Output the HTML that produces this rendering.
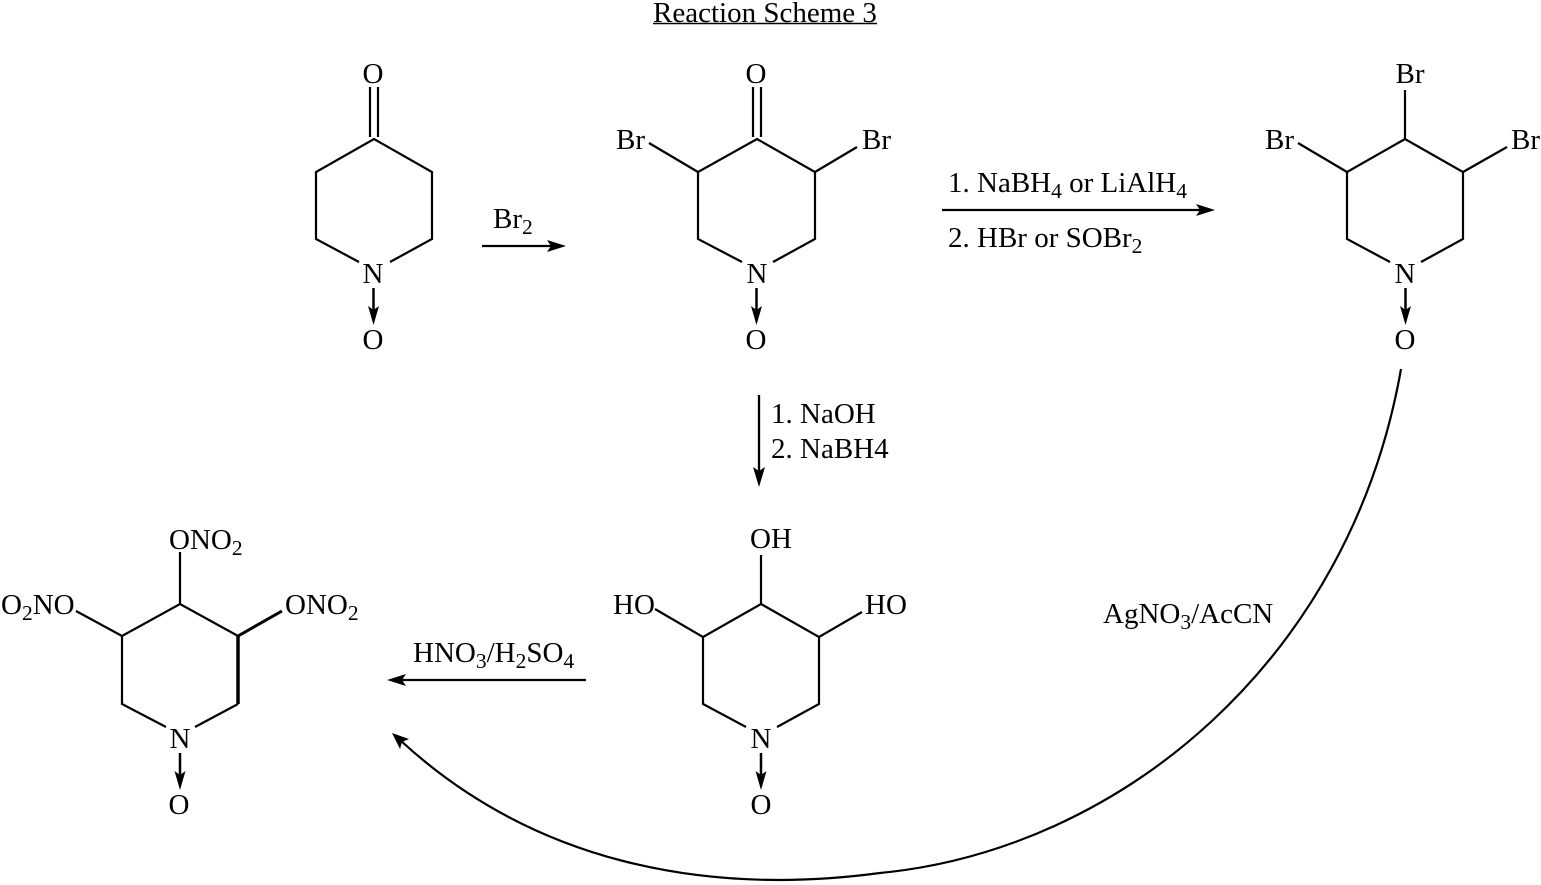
<!DOCTYPE html>
<html><head><meta charset="utf-8"><style>
html,body{margin:0;padding:0;background:#fff}
svg{display:block}
text{font-family:"Liberation Serif",serif;font-size:29px;fill:#000}
.s{font-size:21.5px}
</style></head><body>
<svg width="1541" height="885" viewBox="0 0 1541 885" xmlns="http://www.w3.org/2000/svg">
<defs>
<polygon id="ad" points="0,20 -5.5,1 0,5 5.5,1" fill="#000"/>
</defs>
<g fill="none" stroke="#000" stroke-width="2.2">
<!-- mol 1 -->
<path d="M370,87V137M378,87V137"/>
<path d="M359,262L316,239V172L374,139L432,172V239L390,262"/>
<path d="M373.5,288V310" stroke-width="2.5"/>
<!-- mol 2 -->
<path d="M753,87V137M761,87V137"/>
<path d="M742,262L698,239V172L757,139L815,172V239L773,262"/>
<path d="M698,172L649,143M815,172L857,147"/>
<path d="M756.5,288V310" stroke-width="2.5"/>
<!-- mol 3 -->
<path d="M1390,262L1347,239V172L1405,139L1463,172V239L1421,262"/>
<path d="M1405,139V90M1347,172L1298,143M1463,172L1507,147"/>
<path d="M1405.5,288V310" stroke-width="2.5"/>
<!-- mol 4 -->
<path d="M746,727L703,704V637L761,604L819,637V704L777,727"/>
<path d="M761,604V555M703,637L655,609M819,637L862,612"/>
<path d="M761,753V775" stroke-width="2.5"/>
<!-- mol 5 -->
<path d="M166,727L122,704V636L180,604L238,636"/>
<path d="M238,704L195,727"/>
<path d="M180,604V552M122,636L76,611"/>
<path d="M238,636V704" stroke-width="3.5"/>
<path d="M238,636L282,611" stroke-width="3"/>
<path d="M180,753V775" stroke-width="2.5"/>
<!-- reaction arrows -->
<path d="M482,246H552M942,210H1200M759,395V472M586,680H402" stroke-width="2.3"/>
<!-- curve -->
<path d="M1401,369C1350,660 1120,850 880,873C700,897 530,860 400,740"/>
</g>
<use href="#ad" x="373.5" y="305"/>
<use href="#ad" x="756.5" y="305"/>
<use href="#ad" x="1405.5" y="305"/>
<use href="#ad" x="761" y="770"/>
<use href="#ad" x="180" y="770"/>
<polygon points="566,246 547,240 551,246 547,252" fill="#000"/>
<polygon points="1215,210 1196,204 1200,210 1196,216" fill="#000"/>
<polygon points="759,487 753,467 759,471 765,467" fill="#000"/>
<polygon points="387,680 406,674 402,680 406,686" fill="#000"/>
<polygon points="392,733 409,739 402,742 400,749" fill="#000"/>

<text x="653" y="22">Reaction Scheme 3</text>
<path d="M653,23.5H877" stroke="#000" stroke-width="1.5" fill="none"/>

<g text-anchor="middle">
<text x="373" y="83">O</text><text x="373" y="283">N</text><text x="373" y="349">O</text>
<text x="756" y="83">O</text><text x="757" y="283">N</text><text x="756" y="349">O</text>
<text x="1405" y="283">N</text><text x="1405" y="349">O</text>
<text x="1410" y="83">Br</text>
<text x="761" y="748">N</text><text x="761" y="814">O</text>
<text x="180" y="748">N</text><text x="179" y="814">O</text>
<text x="771" y="548">OH</text>
</g>
<text x="616" y="149">Br</text>
<text x="862" y="149">Br</text>
<text x="1265" y="149">Br</text>
<text x="1511" y="149">Br</text>
<text x="613" y="614">HO</text>
<text x="865" y="614">HO</text>
<text x="169" y="549">ONO<tspan class="s" dy="6">2</tspan></text>
<text x="285" y="614">ONO<tspan class="s" dy="6">2</tspan></text>
<text x="1" y="614">O<tspan class="s" dy="6">2</tspan><tspan dy="-6">NO</tspan></text>
<text x="493" y="228">Br<tspan class="s" dy="6">2</tspan></text>
<text x="948" y="192">1. NaBH<tspan class="s" dy="6">4</tspan><tspan dy="-6"> or LiAlH</tspan><tspan class="s" dy="6">4</tspan></text>
<text x="948" y="247">2. HBr or SOBr<tspan class="s" dy="6">2</tspan></text>
<text x="771" y="423">1. NaOH</text>
<text x="771" y="458">2. NaBH4</text>
<text x="413" y="662">HNO<tspan class="s" dy="6">3</tspan><tspan dy="-6">/H</tspan><tspan class="s" dy="6">2</tspan><tspan dy="-6">SO</tspan><tspan class="s" dy="6">4</tspan></text>
<text x="1103" y="623">AgNO<tspan class="s" dy="6">3</tspan><tspan dy="-6">/AcCN</tspan></text>
</svg>
</body></html>
